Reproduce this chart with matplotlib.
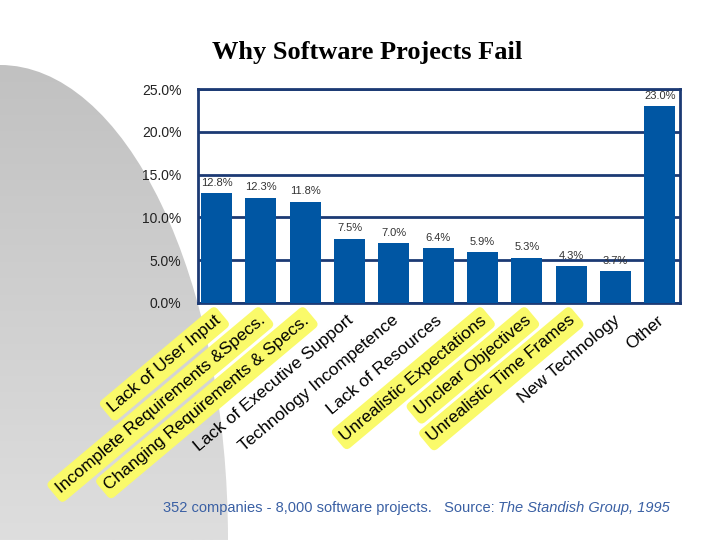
import numpy as np
import matplotlib
matplotlib.use("Agg")
import matplotlib.pyplot as plt
from matplotlib.patches import Ellipse

# data
reasons = ["Lack of User Input", "Incomplete Requirements &Specs.",
           "Changing Requirements & Specs.", "Lack of Executive Support",
           "Technology Incompetence", "Lack of Resources",
           "Unrealistic Expectations", "Unclear Objectives",
           "Unrealistic Time Frames", "New Technology", "Other"]
percents = [12.8, 12.3, 11.8, 7.5, 7.0, 6.4, 5.9, 5.3, 4.3, 3.7, 23.0]
highlighted = [True, True, True, False, False, False, True, True, True, False, False]
yticks = [0, 5, 10, 15, 20, 25]

plt.rcParams["font.family"] = ["Liberation Sans", "DejaVu Sans"]

fig = plt.figure(figsize=(7.2, 5.4), dpi=100)
fig.patch.set_facecolor("white")

# grey quarter ellipse in the background
bg = fig.add_axes([0, 0, 1, 1], zorder=-1)
bg.set_xlim(0, 720)
bg.set_ylim(540, 0)
bg.axis("off")
shape = Ellipse((0, 540), 2 * 228, 2 * 475, facecolor="none", edgecolor="none")
bg.add_patch(shape)
grad = np.linspace(0, 1, 256).reshape(-1, 1)
img = bg.imshow(grad, extent=(0, 720, 540, 0), cmap=plt.matplotlib.colors.LinearSegmentedColormap.from_list(
    "g", ["#bdbdbd", "#dedede"]), aspect="auto", origin="upper")
img.set_clip_path(shape)

# main chart
ax = fig.add_axes([0.275, 0.439, 0.669, 0.396])
x = np.arange(len(reasons))
navy = "#1c3a74"
ax.bar(x, percents, width=0.7, color="#0056a3", zorder=3)
ax.set_xlim(-0.42, 10.45)
ax.set_ylim(0, 25)
ax.set_yticks(yticks)
ax.set_yticklabels([f"{v:.1f}%" for v in yticks], fontsize=10, color="#222222")
ax.tick_params(axis="y", length=0, pad=12)
ax.tick_params(axis="x", length=0)
ax.set_xticks([])
ax.grid(axis="y", color=navy, lw=2, zorder=1)
for sp in ax.spines.values():
    sp.set_color(navy)
    sp.set_linewidth(2)

# value labels
for xi, v in zip(x, percents):
    ax.annotate(f"{v:.1f}%", (xi, v), xytext=(0, 4), textcoords="offset points",
                ha="center", va="bottom", fontsize=8, color="#333333", zorder=5)

# rotated category labels, some with a yellow highlight
for xi, lab, hl in zip(x, reasons, highlighted):
    bbox = dict(boxstyle="round,pad=0.3", facecolor="#fafa6a", edgecolor="none") if hl else None
    ax.annotate(lab, (xi, 0), xycoords=("data", "axes fraction"), xytext=(-2, -7),
                textcoords="offset points", ha="right", va="top", rotation=40,
                rotation_mode="anchor", fontsize=12.5, color="black", bbox=bbox,
                annotation_clip=False)

# title
fig.text(0.51, 0.903, "Why Software Projects Fail", ha="center", va="center",
         fontsize=19, fontweight="bold", family="Liberation Serif")

# footer
src = fig.text(0.226, 0.06, "352 companies - 8,000 software projects.   Source: ",
               fontsize=10.5, color="#3a60a4", va="center")
fig.canvas.draw()
ax.annotate("The Standish Group, 1995", xy=(1, 0), xycoords=src, va="bottom",
            fontsize=10.5, color="#3a60a4", style="italic")

fig.savefig("out.png", dpi=100)
